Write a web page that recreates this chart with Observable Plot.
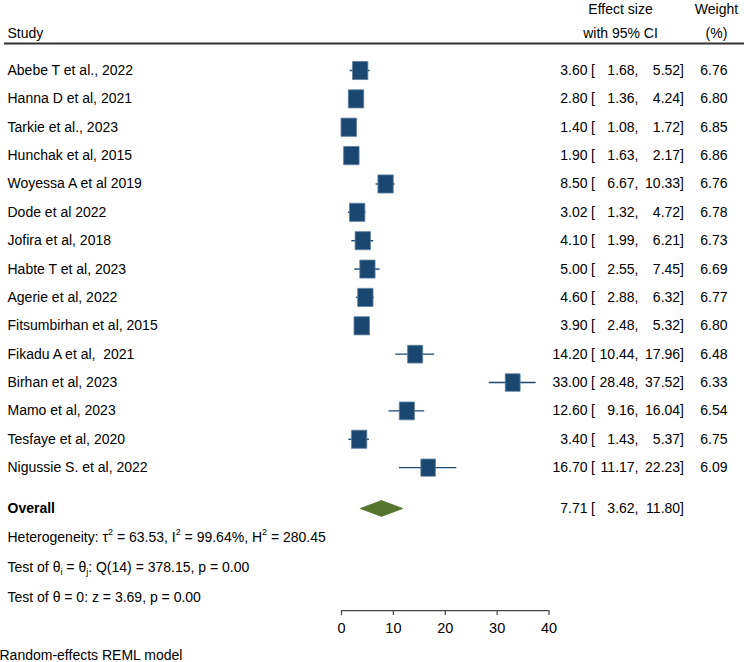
<!DOCTYPE html>
<html>
<head>
<meta charset="utf-8">
<script src="https://cdn.jsdelivr.net/npm/d3@7"></script>
<script src="https://cdn.jsdelivr.net/npm/@observablehq/plot@0.6"></script>
<style>
  html, body { margin: 0; padding: 0; background: #fff; }
  svg { display: block; }
</style>
</head>
<body>
<div id="chart"></div>
<script>
// ---- data ----
const studies = [
  "Abebe T et al., 2022", "Hanna D et al, 2021", "Tarkie et al., 2023", "Hunchak et al, 2015",
  "Woyessa A et al 2019", "Dode et al 2022", "Jofira et al, 2018", "Habte T et al, 2023",
  "Agerie et al, 2022", "Fitsumbirhan et al, 2015", "Fikadu A et al,  2021", "Birhan et al, 2023",
  "Mamo et al, 2023", "Tesfaye et al, 2020", "Nigussie S. et al, 2022"
];
const effect = [3.60, 2.80, 1.40, 1.90, 8.50, 3.02, 4.10, 5.00, 4.60, 3.90, 14.20, 33.00, 12.60, 3.40, 16.70];
const lower  = [1.68, 1.36, 1.08, 1.63, 6.67, 1.32, 1.99, 2.55, 2.88, 2.48, 10.44, 28.48, 9.16, 1.43, 11.17];
const upper  = [5.52, 4.24, 1.72, 2.17, 10.33, 4.72, 6.21, 7.45, 6.32, 5.32, 17.96, 37.52, 16.04, 5.37, 22.23];
const weight = [6.76, 6.80, 6.85, 6.86, 6.76, 6.78, 6.73, 6.69, 6.77, 6.80, 6.48, 6.33, 6.54, 6.75, 6.09];
const overallLabel = "Overall";
const overall = {es: 7.71, lo: 3.62, hi: 11.80};
const statLines = [
  "Heterogeneity: τ{^2} = 63.53, I{^2} = 99.64%, H{^2} = 280.45",
  "Test of θ{_i} = θ{_j}: Q(14) = 378.15, p = 0.00",
  "Test of θ = 0: z = 3.69, p = 0.00"
];
const xTicks = [0, 10, 20, 30, 40];
const headerLeft = "Study";
const headerES = ["Effect size", "with 95% CI"];
const headerW = ["Weight", "(%)"];
const caption = "Random-effects REML model";

// ---- layout constants (rows in y-scale units) ----
const overallRow = 15.44;
const statRows = [16.47, 17.52, 18.58];
const axisRow = 19.04;
const captionRow = 20.62;
const headRows = [-2.14, -1.32];
const headLineRow = -0.95;

const rows = studies.map((s, i) => ({
  study: s, es: effect[i], lo: lower[i], hi: upper[i], w: weight[i], row: i
}));
const f2 = v => v.toFixed(2);

const FONT = "'Liberation Sans', Arial, Helvetica, sans-serif";
const FS = 14;

// custom box symbol (slightly taller than wide, like reference)
const box = {
  draw(ctx, size) {
    const r = Math.sqrt(size / Math.PI);
    const hw = r * 0.805, hh = r * 0.95;
    ctx.moveTo(-hw, -hh); ctx.lineTo(hw, -hh); ctx.lineTo(hw, hh); ctx.lineTo(-hw, hh); ctx.closePath();
  }
};

const diamond = [
  {x: overall.lo, y: overallRow},
  {x: overall.es, y: overallRow - 0.28},
  {x: overall.hi, y: overallRow},
  {x: overall.es, y: overallRow + 0.28},
  {x: overall.lo, y: overallRow}
];

const txt = {fontSize: FS, fill: "#000", frameAnchor: "left"};

const plot = Plot.plot({
  width: 744,
  height: 662,
  marginTop: 0, marginLeft: 0, marginRight: 0, marginBottom: 52,
  style: {fontFamily: FONT, fontSize: FS + "px", background: "#fff"},
  x: {domain: [0, 40], range: [341, 548.5], axis: null},
  y: {type: "linear", domain: [-2.468, 20.87], range: [0, 662], axis: null},
  r: {type: "sqrt", domain: [0, 6.86], range: [0, 9.6]},
  marks: [
    // header
    Plot.text([headerLeft], {...txt, y: headRows[1], text: d => d, dx: 7, textAnchor: "start"}),
    Plot.text(headerES, {...txt, y: (d, i) => headRows[i], text: d => d, dx: 620, textAnchor: "middle"}),
    Plot.text(headerW, {...txt, y: (d, i) => headRows[i], text: d => d, dx: 716, textAnchor: "middle"}),
    Plot.ruleY([headLineRow], {stroke: "#333", strokeWidth: 2, insetLeft: 4}),

    // CI lines and boxes
    Plot.ruleY(rows, {y: "row", x1: "lo", x2: "hi", stroke: "#1a476f", strokeWidth: 1.4}),
    Plot.dot(rows, {x: "es", y: "row", r: "w", symbol: box, fill: "#1a476f", stroke: "#5c7fa0", strokeWidth: 0.8}),

    // overall diamond
    Plot.line(diamond, {x: "x", y: "y", fill: "#55752f", stroke: "#55752f", strokeWidth: 0.8, curve: "linear"}),

    // study labels
    Plot.text(rows, {...txt, y: "row", text: "study", dx: 7, textAnchor: "start"}),
    Plot.text([overallLabel], {...txt, y: overallRow, text: d => d, dx: 7, textAnchor: "start", fontWeight: "bold"}),

    // numeric columns
    Plot.text(rows, {...txt, y: "row", text: d => f2(d.es), dx: 587, textAnchor: "end"}),
    Plot.text(rows, {...txt, y: "row", text: () => "[", dx: 590.5, textAnchor: "start"}),
    Plot.text(rows, {...txt, y: "row", text: d => f2(d.lo) + ",", dx: 638, textAnchor: "end"}),
    Plot.text(rows, {...txt, y: "row", text: d => f2(d.hi) + "]", dx: 683.5, textAnchor: "end"}),
    Plot.text(rows, {...txt, y: "row", text: d => f2(d.w), dx: 727, textAnchor: "end"}),

    Plot.text([overall], {...txt, y: overallRow, text: d => f2(d.es), dx: 587, textAnchor: "end"}),
    Plot.text([overall], {...txt, y: overallRow, text: () => "[", dx: 590.5, textAnchor: "start"}),
    Plot.text([overall], {...txt, y: overallRow, text: d => f2(d.lo) + ",", dx: 638, textAnchor: "end"}),
    Plot.text([overall], {...txt, y: overallRow, text: d => f2(d.hi) + "]", dx: 683.5, textAnchor: "end"}),

    // stats
    Plot.text(statLines, {...txt, y: (d, i) => statRows[i], text: d => d, dx: 7, textAnchor: "start"}),

    // axis
    Plot.ruleY([axisRow], {x1: xTicks[0], x2: xTicks[xTicks.length - 1], stroke: "#444", strokeWidth: 1.2}),
    Plot.axisX({anchor: "bottom", ticks: xTicks, tickSize: 5, tickPadding: 7, fontSize: 14.5, stroke: "#444", strokeWidth: 1.2, label: null, tickFormat: d => String(d)}),

    // caption
    Plot.text([caption], {...txt, y: captionRow, text: d => d, dx: -1, textAnchor: "start"})
  ]
});

// rich text: superscripts {^x} and subscripts {_x}
d3.select(plot).selectAll("text").each(function() {
  const el = d3.select(this);
  const s = this.textContent;
  if (!s.includes("{")) return;
  el.text(null);
  const parts = s.split(/(\{[\^_][^}]*\})/);
  let shift = 0;
  for (const p of parts) {
    if (!p) continue;
    const m = p.match(/^\{([\^_])([^}]*)\}$/);
    if (m) {
      const up = m[1] === "^";
      const d = up ? -7 : 3;
      el.append("tspan").attr("dy", d - shift).attr("font-size", 9).text(m[2]);
      shift = d;
    } else {
      el.append("tspan").attr("dy", -shift).text(p);
      shift = 0;
    }
  }
});

document.getElementById("chart").appendChild(plot);
</script>
</body>
</html>
